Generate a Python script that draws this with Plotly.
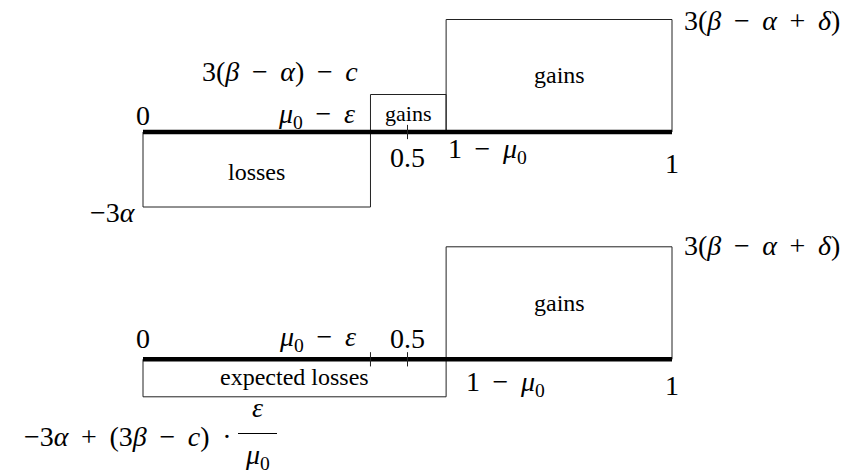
import plotly.graph_objects as go

# ---- data (schematic positions on [0,1] and heights in arbitrary units) ----
MU0_MINUS_EPS = 0.43
HALF = 0.5
ONE_MINUS_MU0 = 0.573

# top diagram: intervals and values
top_starts = [0.0, MU0_MINUS_EPS, ONE_MINUS_MU0]
top_ends = [MU0_MINUS_EPS, ONE_MINUS_MU0, 1.0]
top_values = [-2.0, 1.0, 3.0]
top_labels = ["losses", "gains", "gains"]
top_ticks = [HALF]

# bottom diagram
bot_starts = [0.0, ONE_MINUS_MU0]
bot_ends = [ONE_MINUS_MU0, 1.0]
bot_values = [-1.0, 3.0]
bot_labels = ["expected losses", "gains"]
bot_ticks = [MU0_MINUS_EPS, HALF]

# layout constants
W, H = 856, 475
X0PX, XSCALE = 143.0, 529.0
Y0PX, YSCALE = 132.0, 37.5
BOT_BASE = -(359.3 - 132.0) / YSCALE
TICK_H = 0.19

FONT = "Liberation Serif"
MATH = 28
TXT = 24
S = " \u2009"  # operator spacing

fig = go.Figure()

def rect(x0, x1, base, v):
    fig.add_trace(go.Scatter(x=[x0, x0, x1, x1, x0], y=[base, base + v, base + v, base, base],
                             mode="lines", line=dict(color="#222", width=1),
                             hoverinfo="skip", showlegend=False))

def axisline(base):
    fig.add_trace(go.Scatter(x=[0, 1], y=[base, base], mode="lines",
                             line=dict(color="black", width=4.5),
                             hoverinfo="skip", showlegend=False))

def tick(x, base):
    fig.add_trace(go.Scatter(x=[x, x], y=[base - TICK_H, base + TICK_H], mode="lines",
                             line=dict(color="#222", width=1),
                             hoverinfo="skip", showlegend=False))

for s, e, v in zip(top_starts, top_ends, top_values):
    rect(s, e, 0.0, v)
axisline(0.0)
for t in top_ticks:
    tick(t, 0.0)

for s, e, v in zip(bot_starts, bot_ends, bot_values):
    rect(s, e, BOT_BASE, v)
axisline(BOT_BASE)
for t in bot_ticks:
    tick(t, BOT_BASE)

def py(p):
    return 1 - p / H

def label(text, x, ypx, size=MATH, xanchor="center", xshift=0):
    fig.add_annotation(x=x, xref="x", y=py(ypx), yref="paper", text=text,
                       showarrow=False, xanchor=xanchor, yanchor="middle", xshift=xshift,
                       font=dict(family=FONT, size=size, color="black"))

# region labels (centered in their boxes)
top_pad = {0: 172, 1: 113, 2: 75}
for i, (s, e, lab) in enumerate(zip(top_starts, top_ends, top_labels)):
    label(lab, (s + e) / 2, top_pad[i], size=(22 if i == 1 else TXT))
bot_pad = {0: 377, 1: 303}
for i, (s, e, lab) in enumerate(zip(bot_starts, bot_ends, bot_labels)):
    label(lab, (s + e) / 2, bot_pad[i], size=TXT)

mu_eps = f"<i>μ</i><sub>0</sub>{S}−{S}<i>ε</i>"
one_mu = f"1{S}−{S}<i>μ</i><sub>0</sub>"
top_big = f"3(<i>β</i>{S}−{S}<i>α</i>{S}+{S}<i>δ</i>)"

# top diagram math labels
label("0", 0.0, 116)
label(f"3(<i>β</i>{S}−{S}<i>α</i>){S}−{S}<i>c</i>", MU0_MINUS_EPS, 72, xanchor="right", xshift=-10)
label(mu_eps, MU0_MINUS_EPS, 116, xanchor="right", xshift=-13)
label("0.5", HALF, 157)
label(one_mu, ONE_MINUS_MU0, 150, xanchor="left", xshift=0)
label("1", 1.0, 163)
label(top_big, 1.0, 20, xanchor="left", xshift=10)
label("−3<i>α</i>", 0.0, 212, xanchor="right", xshift=-5)

# bottom diagram math labels
label("0", 0.0, 338)
label(mu_eps, MU0_MINUS_EPS, 338, xanchor="right", xshift=-12)
label("0.5", HALF, 338)
label(one_mu, ONE_MINUS_MU0, 383, xanchor="left", xshift=18)
label("1", 1.0, 385)
label(top_big, 1.0, 245, xanchor="left", xshift=10)

# bottom-left expression with fraction
label(f"−3<i>α</i>{S}+{S}(3<i>β</i>{S}−{S}<i>c</i>){S}·", 0.0, 436, xanchor="right", xshift=-143 + 234)
label("<i>ε</i>", 0.0, 407, xanchor="center", xshift=-143 + 257)
label("<i>μ</i><sub>0</sub>", 0.0, 456, xanchor="center", xshift=-143 + 257)
fig.add_shape(type="line", xref="paper", yref="paper",
              x0=238 / W, x1=277 / W, y0=py(433.5), y1=py(433.5),
              line=dict(color="black", width=1.2))

fig.update_layout(
    width=W, height=H,
    margin=dict(l=0, r=0, t=0, b=0),
    paper_bgcolor="white", plot_bgcolor="white",
    showlegend=False,
    xaxis=dict(range=[-X0PX / XSCALE, (W - X0PX) / XSCALE], visible=False, fixedrange=True),
    yaxis=dict(range=[(Y0PX - H) / YSCALE, Y0PX / YSCALE], visible=False, fixedrange=True,
               autorange=False),
)

fig.write_html("out.html", config={"displayModeBar": False, "staticPlot": True},
               post_script="document.body.style.margin='0';document.body.style.padding='0';")
